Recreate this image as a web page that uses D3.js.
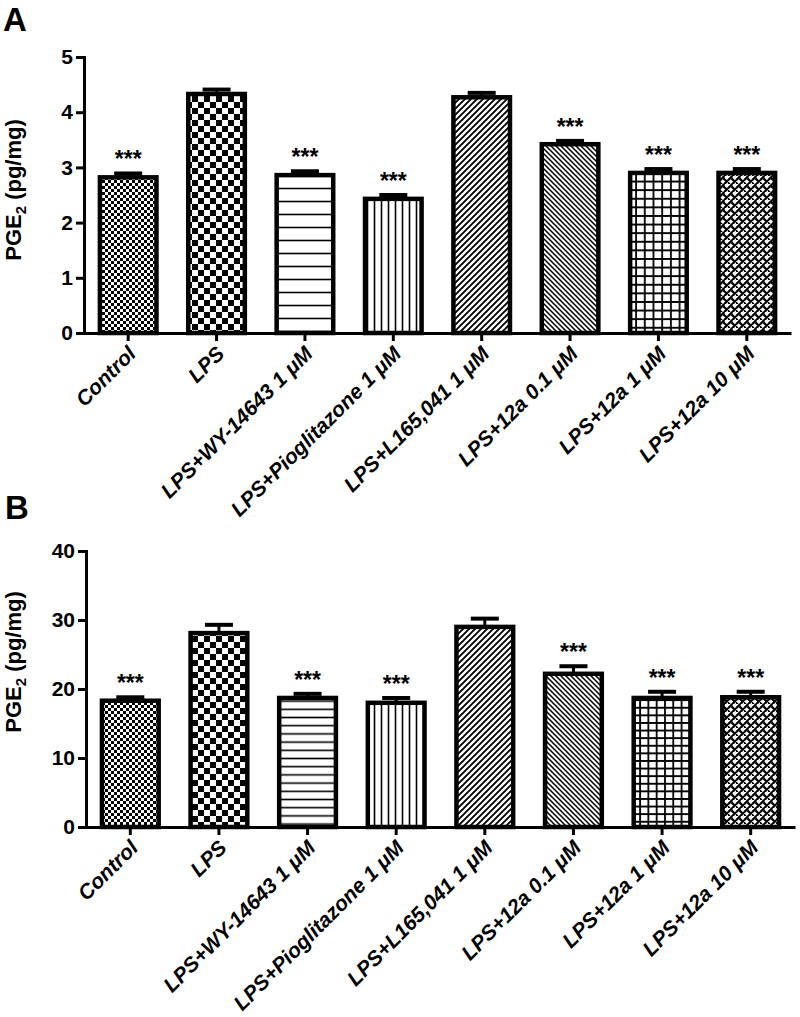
<!DOCTYPE html>
<html><head><meta charset="utf-8">
<script src="https://cdn.jsdelivr.net/npm/d3@7"></script>
<style>body{margin:0;background:#fff}svg{display:block}</style>
</head><body><svg id="c" width="800" height="1017"></svg>
<script>
const categories = ["Control","LPS","LPS+WY-14643 1 μM","LPS+Pioglitazone 1 μM","LPS+L165,041 1 μM","LPS+12a 0.1 μM","LPS+12a 1 μM","LPS+12a 10 μM"];
const meanA = [2.82, 4.33, 2.86, 2.43, 4.27, 3.42, 2.90, 2.90];
const errA  = [0.07, 0.08, 0.07, 0.07, 0.08, 0.06, 0.07, 0.07];
const meanB = [18.3, 28.1, 18.7, 18.0, 29.0, 22.2, 18.7, 18.8];
const errB  = [0.5, 1.2, 0.6, 0.7, 1.2, 1.1, 0.9, 0.8];
const sigA  = ["***","","***","***","","***","***","***"];
const sigB  = ["***","","***","***","","***","***","***"];
const yTicksA = [0,1,2,3,4,5];
const yTicksB = [0,10,20,30,40];
const patternKeys = ["checkFine","checkLarge","hlines","vlines","diagUp","diagDown","grid","weave"];

const svg = d3.select("#c");
const defs = svg.append("defs");
const FONT = "'Liberation Sans', Arial, Helvetica, sans-serif";

function makePatterns(suffix, hSpace, gridX, gridY){
  function pat(id, w, h){
    return defs.append("pattern").attr("id", id + suffix).attr("patternUnits","userSpaceOnUse")
      .attr("width", w).attr("height", h);
  }
  let p = pat("checkFine", 6, 6);
  p.append("rect").attr("width",6).attr("height",6).attr("fill","#fff");
  p.append("rect").attr("width",3).attr("height",3).attr("fill","#000");
  p.append("rect").attr("x",3).attr("y",3).attr("width",3).attr("height",3).attr("fill","#000");
  p = pat("checkLarge", 12, 12);
  p.append("rect").attr("width",12).attr("height",12).attr("fill","#fff");
  p.append("rect").attr("width",6).attr("height",6).attr("fill","#000");
  p.append("rect").attr("x",6).attr("y",6).attr("width",6).attr("height",6).attr("fill","#000");
  p = pat("hlines", 10, hSpace);
  p.append("rect").attr("width",10).attr("height",hSpace).attr("fill","#fff");
  p.append("line").attr("x1",0).attr("x2",10).attr("y1",hSpace/2).attr("y2",hSpace/2).attr("stroke","#000").attr("stroke-width",1.6);
  p = pat("vlines", 7, 10);
  p.append("rect").attr("width",7).attr("height",10).attr("fill","#fff");
  p.append("line").attr("x1",3.5).attr("x2",3.5).attr("y1",0).attr("y2",10).attr("stroke","#000").attr("stroke-width",1.6);
  p = pat("diagUp", 6, 6);
  p.append("rect").attr("width",6).attr("height",6).attr("fill","#fff");
  p.append("path").attr("d","M-1,7 L7,-1 M-4,4 L4,-4 M2,10 L10,2").attr("stroke","#000").attr("stroke-width",1.9);
  p = pat("diagDown", 5, 5);
  p.append("rect").attr("width",5).attr("height",5).attr("fill","#fff");
  p.append("path").attr("d","M-1,-1 L6,6 M-3,2 L3,8 M2,-3 L8,3").attr("stroke","#000").attr("stroke-width",1.5);
  p = pat("grid", gridX, gridY);
  p.append("rect").attr("width",gridX).attr("height",gridY).attr("fill","#fff");
  p.append("path").attr("d",`M1,0 V${gridY} M0,1 H${gridX}`).attr("stroke","#000").attr("stroke-width",1.8);
  p = pat("weave", 8, 8);
  p.append("rect").attr("width",8).attr("height",8).attr("fill","#fff");
  p.append("path").attr("d","M0.8,3.6 L3.6,0.8 M4.8,7.6 L7.6,4.8 M4.4,3.2 L5.4,4.2 M0.4,7.2 L1.4,8.2").attr("stroke","#000").attr("stroke-width",2.3).attr("stroke-linecap","square");
}
makePatterns("A", 13, 8.7, 8.6);
makePatterns("B", 8.2, 8.3, 7.6);

function drawPanel(o){
  const g = svg.append("g");
  const x = d3.scaleBand().domain(categories).range([o.x0, o.x1]).paddingInner(0.36).paddingOuter(0.18);
  const y = d3.scaleLinear().domain([0, o.yMax]).range([o.yBottom, o.yTop]);
  const data = categories.map((c,i)=>({c, m:o.mean[i], e:o.err[i], s:o.sig[i], p:patternKeys[i]}));

  g.selectAll("rect.bar").data(data).join("rect").attr("class","bar")
    .attr("x", d=>x(d.c)).attr("width", x.bandwidth())
    .attr("y", d=>y(d.m)).attr("height", d=>y(0)-y(d.m))
    .attr("fill", d=>`url(#${d.p}${o.suffix})`).attr("stroke","#000").attr("stroke-width",4.5);

  g.selectAll("line.err").data(data).join("line").attr("class","err")
    .attr("x1", d=>x(d.c)+x.bandwidth()/2).attr("x2", d=>x(d.c)+x.bandwidth()/2)
    .attr("y1", d=>y(d.m)).attr("y2", d=>y(d.m+d.e)).attr("stroke","#000").attr("stroke-width",3);
  g.selectAll("line.cap").data(data).join("line").attr("class","cap")
    .attr("x1", d=>x(d.c)+x.bandwidth()/2-14).attr("x2", d=>x(d.c)+x.bandwidth()/2+14)
    .attr("y1", d=>y(d.m+d.e)).attr("y2", d=>y(d.m+d.e)).attr("stroke","#000").attr("stroke-width",4);

  g.selectAll("text.sig").data(data.filter(d=>d.s)).join("text").attr("class","sig")
    .attr("x", d=>x(d.c)+x.bandwidth()/2).attr("y", d=>y(d.m+d.e)-6)
    .attr("text-anchor","middle").attr("font-family",FONT).attr("font-weight","bold").attr("font-size",23)
    .text(d=>d.s);

  const ya = g.append("g").attr("transform",`translate(${o.x0},0)`)
    .call(d3.axisLeft(y).tickValues(o.yTicks).tickFormat(d3.format("d")).tickSize(8).tickSizeOuter(0).tickPadding(3));
  ya.select(".domain").attr("stroke-width",3).attr("stroke-linecap","square");
  ya.selectAll(".tick line").attr("stroke-width",3);
  ya.selectAll("text").attr("font-family",FONT).attr("font-weight","bold").attr("font-size",21).attr("fill","#000");

  const xa = g.append("g").attr("transform",`translate(0,${o.yBottom})`)
    .call(d3.axisBottom(x).tickSize(8).tickSizeOuter(0));
  xa.select(".domain").attr("stroke-width",3);
  xa.selectAll(".tick line").attr("stroke-width",3);
  xa.selectAll("text").attr("font-family",FONT).attr("font-weight","bold").attr("font-style","italic")
    .attr("font-size",21).attr("fill","#000").attr("text-anchor","end")
    .attr("y",0).attr("dy",0).attr("transform","translate(9,22) rotate(-45)");

  const t = g.append("text").attr("transform",`translate(${o.titleX},${o.titleY}) rotate(-90)`)
    .attr("text-anchor","middle").attr("font-family",FONT).attr("font-weight","bold").attr("font-size",22);
  t.append("tspan").text("PGE");
  t.append("tspan").attr("font-size",15).attr("dy",5).text("2");
  t.append("tspan").attr("dy",-5).text(" (pg/mg)");

  svg.append("text").attr("x",o.letterX).attr("y",o.letterY).attr("font-family",FONT)
    .attr("font-weight","bold").attr("font-size",33).text(o.letter);
}

drawPanel({suffix:"A", letter:"A", letterX:3, letterY:31, x0:84, x1:791, yTop:57, yBottom:333, yMax:5,
  yTicks:yTicksA, mean:meanA, err:errA, sig:sigA, titleX:21, titleY:190});
drawPanel({suffix:"B", letter:"B", letterX:5, letterY:519, x0:86, x1:795, yTop:551, yBottom:827, yMax:40,
  yTicks:yTicksB, mean:meanB, err:errB, sig:sigB, titleX:21, titleY:662});
</script></body></html>
